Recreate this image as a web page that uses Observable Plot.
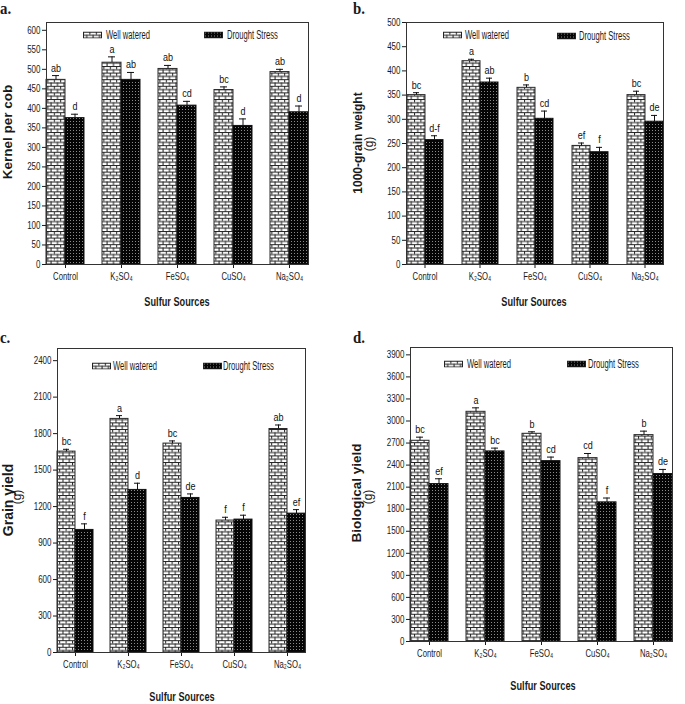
<!DOCTYPE html>
<html>
<head>
<meta charset="utf-8">
<script src="https://cdn.jsdelivr.net/npm/d3@7"></script>
<script src="https://cdn.jsdelivr.net/npm/@observablehq/plot@0.6"></script>
<style>
  body { margin: 0; background: #fff; }
  #root { position: relative; width: 685px; height: 704px; overflow: hidden; background: #fff; color: #1a1a1a; }
  .abs { position: absolute; white-space: nowrap; line-height: 1; }
  .letter { font-family: 'Liberation Serif', 'Times New Roman', serif; font-weight: bold; font-size: 16.5px; transform: scaleX(0.9); transform-origin: left center; }
  .ytitle { transform: translate(-50%, -50%) rotate(-90deg); font-family: 'Liberation Sans', Arial, sans-serif; font-weight: bold; }
  .ysub { transform: translate(-50%, -50%) rotate(-90deg); font-family: 'Liberation Sans', Arial, sans-serif; font-size: 12px; }
  .xtitle { transform: translate(-50%, -50%) scaleX(0.68); font-family: 'Liberation Sans', Arial, sans-serif; font-weight: bold; font-size: 13.5px; }
  .legtext { transform: translateY(-50%) scaleX(0.61); transform-origin: left center; font-family: 'Liberation Sans', Arial, sans-serif; font-size: 12.5px; }
  .swatch { transform: translateY(-50%); }
</style>
</head>
<body>
<svg width="0" height="0" style="position:absolute">
  <defs>
    <pattern id="brick" patternUnits="userSpaceOnUse" width="6.4" height="6.6">
      <rect x="0" y="0" width="6.4" height="6.6" fill="#ffffff"/>
      <rect x="0" y="0" width="6.4" height="1" fill="#222"/>
      <rect x="0" y="3.3" width="6.4" height="1" fill="#222"/>
      <rect x="0" y="0" width="1" height="3.3" fill="#222"/>
      <rect x="3.2" y="3.3" width="1" height="3.3" fill="#222"/>
    </pattern>
    <pattern id="dots" patternUnits="userSpaceOnUse" width="3" height="3">
      <rect x="0" y="0" width="3" height="3" fill="#050505"/>
      <rect x="1" y="1" width="1" height="1" fill="#8a8a8a"/>
    </pattern>
  </defs>
</svg>
<div id="root"></div>
<script>
// ---------- data ----------
const categories = ["Control", "K2SO4", "FeSO4", "CuSO4", "Na2SO4"];
const categoryLabels = ["Control", "K₂SO₄", "FeSO₄", "CuSO₄", "Na₂SO₄"];
const seriesKeys = ["WW", "DS"];
const seriesNames = ["Well watered", "Drought Stress"];
const xTitle = "Sulfur Sources";

// a. Kernel per cob
const kernelWW = [473, 517, 501, 447, 493];
const kernelWWErr = [11, 15, 9, 8, 7];
const kernelWWLetters = ["ab", "a", "ab", "bc", "ab"];
const kernelDS = [375, 473, 407, 355, 390];
const kernelDSErr = [10, 19, 11, 18, 16];
const kernelDSLetters = ["d", "ab", "cd", "d", "d"];
const kernelTicks = [0, 50, 100, 150, 200, 250, 300, 350, 400, 450, 500, 550, 600];

// b. 1000-grain weight (g)
const weightWW = [350, 420, 365, 245, 350];
const weightWWErr = [5, 4, 6, 6, 8];
const weightWWLetters = ["bc", "a", "b", "ef", "bc"];
const weightDS = [257, 376, 301, 232, 295];
const weightDSErr = [9, 9, 16, 10, 13];
const weightDSLetters = ["d-f", "ab", "cd", "f", "de"];
const weightTicks = [0, 50, 100, 150, 200, 250, 300, 350, 400, 450, 500];

// c. Grain yield (g)
const grainWW = [1652, 1921, 1718, 1085, 1838];
const grainWWErr = [19, 27, 22, 27, 33];
const grainWWLetters = ["bc", "a", "bc", "f", "ab"];
const grainDS = [1008, 1337, 1271, 1093, 1142];
const grainDSErr = [50, 55, 33, 36, 33];
const grainDSLetters = ["f", "d", "de", "f", "ef"];
const grainTicks = [0, 300, 600, 900, 1200, 1500, 1800, 2100, 2400];

// d. Biological yield (g)
const bioWW = [2731, 3125, 2826, 2495, 2808];
const bioWWErr = [49, 54, 27, 63, 54];
const bioWWLetters = ["bc", "a", "b", "cd", "b"];
const bioDS = [2142, 2586, 2454, 1893, 2278];
const bioDSErr = [72, 45, 55, 59, 63];
const bioDSLetters = ["ef", "bc", "cd", "f", "de"];
const bioTicks = [0, 300, 600, 900, 1200, 1500, 1800, 2100, 2400, 2700, 3000, 3300, 3600, 3900];

// ---------- layout ----------
const FONT = "'Liberation Sans', Arial, sans-serif";
const panels = [
  { tag: "a.", tagPos: [0, 1], ww: kernelWW, wwErr: kernelWWErr, wwLet: kernelWWLetters,
    ds: kernelDS, dsErr: kernelDSErr, dsLet: kernelDSLetters, ticks: kernelTicks, domain: [0, 620],
    left: 0, top: 0, width: 340, height: 300, mt: 22, mr: 23, mb: 36, ml: 37,
    ytitle: "Kernel per cob", ysize: 13.5, ypos: [8, 132], ysub: null,
    xpos: [177, 302], leg: [[83, 35, 106], [204, 35, 227]] },
  { tag: "b.", tagPos: [353, 1], ww: weightWW, wwErr: weightWWErr, wwLet: weightWWLetters,
    ds: weightDS, dsErr: weightDSErr, dsLet: weightDSLetters, ticks: weightTicks, domain: [0, 500],
    left: 340, top: 0, width: 345, height: 300, mt: 22, mr: 12, mb: 36, ml: 56,
    ytitle: "1000-grain weight", ysize: 12, ypos: [357.5, 143], ysub: [368.5, 144],
    xpos: [534, 302], leg: [[443, 35, 465], [557, 36, 579]] },
  { tag: "c.", tagPos: [0, 329.5], ww: grainWW, wwErr: grainWWErr, wwLet: grainWWLetters,
    ds: grainDS, dsErr: grainDSErr, dsLet: grainDSLetters, ticks: grainTicks, domain: [0, 2500],
    left: 0, top: 330, width: 340, height: 350, mt: 18, mr: 26, mb: 28, ml: 49,
    ytitle: "Grain yield", ysize: 14, ypos: [7.5, 500], ysub: [17, 497],
    xpos: [182, 697], leg: [[92, 365.5, 113], [203, 365.5, 223]] },
  { tag: "d.", tagPos: [353, 329.5], ww: bioWW, wwErr: bioWWErr, wwLet: bioWWLetters,
    ds: bioDS, dsErr: bioDSErr, dsLet: bioDSLetters, ticks: bioTicks, domain: [0, 4000],
    left: 340, top: 330, width: 345, height: 340, mt: 17, mr: 2, mb: 29, ml: 60,
    ytitle: "Biological yield", ysize: 13.5, ypos: [357, 493], ysub: [367.5, 497],
    xpos: [543, 686], leg: [[444, 364, 467], [567, 364, 588]] }
];

const root = document.getElementById("root");
const fills = ["url(#brick)", "url(#dots)"];

function addDiv(cls, x, y, text, extra) {
  const el = document.createElement("div");
  el.className = "abs " + cls;
  el.style.left = x + "px";
  el.style.top = y + "px";
  el.textContent = text;
  if (extra) Object.assign(el.style, extra);
  root.appendChild(el);
  return el;
}

// condense SVG text horizontally (the reference uses a narrow face)
function condense(svg) {
  svg.querySelectorAll("text").forEach(t => {
    const g = t.closest("g[aria-label]");
    const label = g ? g.getAttribute("aria-label") : "";
    const f = label.includes("y-axis") ? 0.8 : label.includes("fx-axis") ? 0.7 : 0.82;
    const len = t.getComputedTextLength();
    if (len > 0) {
      t.setAttribute("textLength", (len * f).toFixed(2));
      t.setAttribute("lengthAdjust", "spacingAndGlyphs");
    }
  });
}

for (const p of panels) {
  const rows = [];
  categories.forEach((c, i) => {
    rows.push({ cat: c, series: "WW", value: p.ww[i], err: p.wwErr[i], letter: p.wwLet[i] });
    rows.push({ cat: c, series: "DS", value: p.ds[i], err: p.dsErr[i], letter: p.dsLet[i] });
  });
  const wwRows = rows.filter(d => d.series === "WW");
  const dsRows = rows.filter(d => d.series === "DS");

  const chart = Plot.plot({
    width: p.width, height: p.height,
    marginTop: p.mt, marginRight: p.mr, marginBottom: p.mb, marginLeft: p.ml,
    style: { fontFamily: FONT, fontSize: "10.5px", color: "#1a1a1a", background: "transparent", overflow: "visible" },
    fx: { domain: categories, paddingInner: 0.32, paddingOuter: 0.16, label: null },
    x: { domain: seriesKeys, padding: 0, axis: null },
    y: { domain: p.domain },
    marks: [
      Plot.barY(wwRows, { fx: "cat", x: "series", y: "value", fill: fills[0], stroke: "#2a2a2a", strokeWidth: 1 }),
      Plot.barY(dsRows, { fx: "cat", x: "series", y: "value", fill: fills[1], stroke: "#111", strokeWidth: 1 }),
      Plot.ruleX(rows, { fx: "cat", x: "series", y1: "value", y2: d => d.value + d.err, stroke: "#111", strokeWidth: 1 }),
      Plot.tickY(rows, { fx: "cat", x: "series", y: d => d.value + d.err, insetLeft: 6, insetRight: 6, stroke: "#111", strokeWidth: 1 }),
      Plot.text(rows, { fx: "cat", x: "series", y: d => d.value + d.err, text: "letter", dy: -4, lineAnchor: "bottom", fontSize: 11, fill: "#111" }),
      Plot.axisY({ ticks: p.ticks, tickSize: 4, tickPadding: 2, label: null, tickFormat: d => String(d), fontSize: 10 }),
      Plot.axisFx({ anchor: "bottom", tickSize: 4, tickPadding: 4, label: null, fontSize: 11,
        tickFormat: c => categoryLabels[categories.indexOf(c)] }),
      Plot.frame({ facet: "super", stroke: "#333", strokeWidth: 1 })
    ]
  });
  const holder = document.createElement("div");
  holder.className = "abs";
  holder.style.left = p.left + "px";
  holder.style.top = p.top + "px";
  chart.style.display = "block";
  holder.appendChild(chart);
  root.appendChild(holder);
  condense(chart);

  addDiv("letter", p.tagPos[0], p.tagPos[1], p.tag);
  addDiv("ytitle", p.ypos[0], p.ypos[1], p.ytitle, { fontSize: p.ysize + "px" });
  if (p.ysub) addDiv("ysub", p.ysub[0], p.ysub[1], "(g)");
  addDiv("xtitle", p.xpos[0], p.xpos[1], xTitle);
  p.leg.forEach(([sx, sy, tx], k) => {
    const sw = document.createElementNS("http://www.w3.org/2000/svg", "svg");
    sw.setAttribute("width", 19); sw.setAttribute("height", 7);
    sw.setAttribute("class", "abs swatch");
    sw.style.left = sx + "px"; sw.style.top = sy + "px";
    const r = document.createElementNS("http://www.w3.org/2000/svg", "rect");
    r.setAttribute("x", 0.5); r.setAttribute("y", 0.5); r.setAttribute("width", 18); r.setAttribute("height", 6);
    r.setAttribute("fill", fills[k]); r.setAttribute("stroke", "#222");
    sw.appendChild(r);
    root.appendChild(sw);
    addDiv("legtext", tx, sy, seriesNames[k]);
  });
}
</script>
</body>
</html>
